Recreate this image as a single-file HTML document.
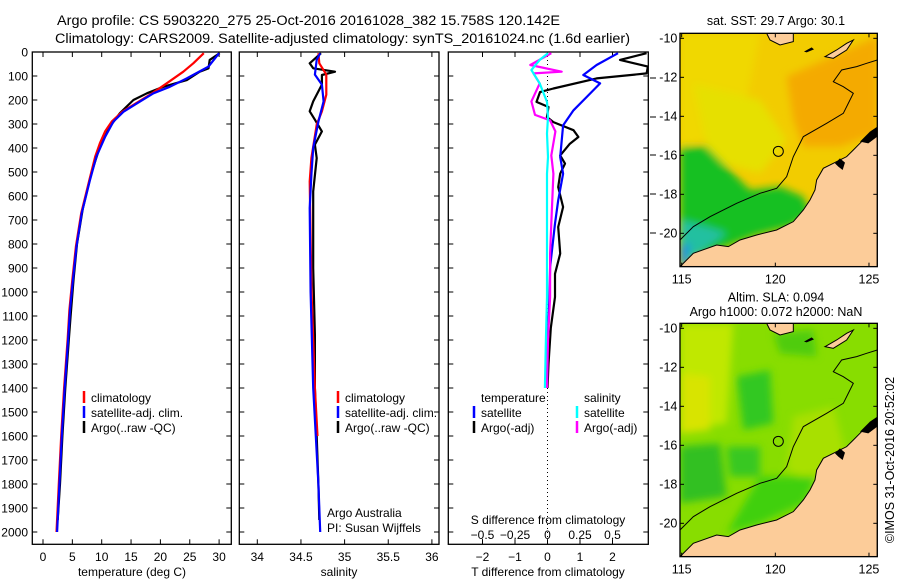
<!DOCTYPE html>
<html><head><meta charset="utf-8"><style>
body{margin:0;background:#fff;width:900px;height:580px;overflow:hidden}
svg{display:block;font-family:"Liberation Sans",sans-serif}
</style></head><body>
<svg id="c" width="900" height="580" viewBox="0 0 900 580">
<defs>
<clipPath id="m1c"><rect x="60" y="100" width="592" height="700"/></clipPath>
<clipPath id="p3c"><rect x="448.3" y="52" width="200" height="492.3"/></clipPath>
<filter id="bl" x="-20%" y="-20%" width="140%" height="140%"><feGaussianBlur stdDeviation="12"/></filter>
</defs>
<text x="57" y="25" font-size="13.5" textLength="503" lengthAdjust="spacingAndGlyphs">Argo profile: CS 5903220_275 25-Oct-2016 20161028_382 15.758S 120.142E</text>
<text x="55" y="43" font-size="13.5" textLength="575" lengthAdjust="spacingAndGlyphs">Climatology: CARS2009. Satellite-adjusted climatology: synTS_20161024.nc (1.6d earlier)</text>
<g id="panels"></g>
<g id="maps"></g>
<text transform="translate(894,460) rotate(-90)" text-anchor="middle" font-size="12.5">©IMOS 31-Oct-2016 20:52:02</text>
</svg>
<script>
// ---- data (depth in dbar) ----
const climDepth=[5,47,82,130,172,214,249,290,330,380,436,533,672,811,950,1075,1193,1400,1600,1800,2000];
const climTemp=[27.4,25.6,23.9,21.1,18.6,15.8,13.5,11.7,10.6,9.7,8.9,7.9,6.5,5.6,5.0,4.5,4.2,3.6,3.1,2.7,2.3];
const satDepth=[5,61,110,145,172,214,249,290,353,436,533,672,811,950,1075,1193,1400,1600,1800,2000];
const satTemp=[30.0,28.2,24.5,21.6,18.8,16.0,13.7,12.0,10.6,9.1,8.0,6.6,5.7,5.1,4.6,4.3,3.7,3.2,2.8,2.4];
const argoDepth=[5,33,68,82,117,145,172,200,255,311,394,500,650,800,950,1100,1200,1400,1600,1800,1950];
const argoTemp=[30.1,28.4,28.2,26.7,24.5,20.5,17.7,15.4,13.1,11.4,9.7,8.3,6.8,5.8,5.2,4.7,4.4,3.8,3.3,2.9,2.5];
const climSalDepth=[5,47,94,178,247,303,442,539,983,1400,1600];
const climSal=[34.70,34.71,34.79,34.79,34.74,34.68,34.62,34.60,34.62,34.66,34.69];
const satSalDepth=[5,33,94,136,206,290,400,511,650,1000,1400,1600,1800,2000];
const satSal=[34.72,34.68,34.66,34.74,34.76,34.70,34.64,34.62,34.60,34.61,34.64,34.67,34.70,34.72];
const argoSalDepth=[5,47,68,82,96,136,206,247,282,331,386,442,581,900,1178,1400,1600,1800,1950];
const argoSal=[34.73,34.60,34.64,34.89,34.74,34.74,34.64,34.60,34.66,34.74,34.66,34.68,34.64,34.64,34.66,34.66,34.68,34.70,34.71];
const dDepthA=[5,33,61,89,110,152,167,208,229,271,292,326,354,382,431,465,507,563,646,729,840,924,1021,1150,1300,1400];
const dTempArgo=[3.05,2.23,3.09,3.05,1.51,0.18,-0.23,-0.34,0.03,-0.02,0.18,0.80,0.95,0.69,0.39,0.54,0.39,0.33,0.48,0.33,0.39,0.23,0.23,0.10,0.03,0.0];
const dDepthS=[5,54,96,131,187,243,306,438,507,618,715,896,1021,1200,1400];
const dTempSat=[2.17,1.51,1.10,1.62,1.21,0.80,0.48,0.39,0.48,0.33,0.23,0.08,0.06,0.0,-0.03];
const dSalDepthA=[5,54,82,89,131,206,262,285,331,431,507,715,840,1021,1200,1400];
const dSalArgo=[0.029,-0.132,0.109,-0.108,-0.060,-0.124,-0.096,0.020,0.061,0.029,0.045,0.029,0.020,0.020,0.004,-0.004];
const dSalDepthS=[5,33,75,131,208,271,340,438,507,715,1021,1200,1400];
const dSalSat=[0.004,-0.06,-0.124,-0.06,-0.004,0.004,-0.004,0.004,-0.004,-0.004,-0.004,-0.012,-0.02];
const depthTicks=[0,100,200,300,400,500,600,700,800,900,1000,1100,1200,1300,1400,1500,1600,1700,1800,1900,2000];
const tempTicks=[0,5,10,15,20,25,30];
const salTicks=[34,34.5,35,35.5,36];
const tdTicks=[-2,-1,0,1,2];
const sdTicks=[-0.5,-0.25,0,0.25,0.5];

const NS='http://www.w3.org/2000/svg';
const root=document.getElementById('panels');
function el(tag,attrs,parent,txt){const e=document.createElementNS(NS,tag);for(const k in attrs)e.setAttribute(k,attrs[k]);if(txt!==undefined)e.textContent=txt;(parent||root).appendChild(e);return e;}
const yD=d=>52+d*0.24;
const xT=t=>43+t*5.87;
const xS=s=>257.3+(s-34)*87.3;
const xTd=t=>547.5+t*32.5;
const xSd=s=>547.5+s*130;
const Y0=52,Y1=544.3;

function panel(x0,x1,name){
  const r=el('rect',{x:x0,y:Y0,width:x1-x0,height:Y1-Y0,fill:'none',stroke:'#000','stroke-width':1.3});
  
  
  depthTicks.forEach(d=>{
    const t1=el('line',{x1:x0,x2:x0+5,y1:yD(d),y2:yD(d),stroke:'#000'});
    
    
    const t2=el('line',{x1:x1-5,x2:x1,y1:yD(d),y2:yD(d),stroke:'#000'});
    
    
  });
}
function xticks(vals,fx,labY,fmt,name){
  vals.forEach(v=>{
    const x=fx(v);
    const a=el('line',{x1:x,x2:x,y1:Y1,y2:Y1-5,stroke:'#000'});
    
    
    const b=el('line',{x1:x,x2:x,y1:Y0,y2:Y0+5,stroke:'#000'});
    
    
    if(labY){const t=el('text',{x:x,y:labY,'text-anchor':'middle','font-size':12},root,fmt?fmt(v):String(v));
    
    }
  });
}
function line(ds,vs,fx,color,name,parent){
  const pts=ds.map((d,i)=>fx(vs[i]).toFixed(1)+','+yD(d).toFixed(1)).join(' ');
  const p=el('polyline',{points:pts,fill:'none',stroke:color,'stroke-width':2.2,'stroke-linejoin':'round'},parent);
  
  
}
function txt(x,y,s,name,anchor,size){const t=el('text',{x:x,y:y,'font-size':size||12,'text-anchor':anchor||'start'},root,s);
  
  return t;}
function legend(x,y,color,label,name){
  const l=el('line',{x1:x,x2:x,y1:y-11,y2:y+1,stroke:color,'stroke-width':2.5});
  
  
  txt(x+7,y,label,name);
}

// Panel 1 temperature
panel(32.3,231.3,'temperature-panel');
depthTicks.forEach(d=>{txt(28,yD(d)+4.5,String(d),'depth-label','end');});
xticks(tempTicks,xT,561,null,'temperature-axis');
txt(132,576,'temperature (deg C)','temperature-axis-title','middle');
line(argoDepth,argoTemp,xT,'#000','argo-temperature-line');
line(climDepth,climTemp,xT,'#f00','climatology-temperature-line');
line(satDepth,satTemp,xT,'#00f','satellite-temperature-line');
legend(84,402,'#f00','climatology','legend-climatology');
legend(84,417,'#00f','satellite-adj. clim.','legend-satellite');
legend(84,432,'#000','Argo(..raw -QC)','legend-argo');

// Panel 2 salinity
panel(239.3,439,'salinity-panel');
xticks(salTicks,xS,561,null,'salinity-axis');
txt(339,576,'salinity','salinity-axis-title','middle');
line(argoSalDepth,argoSal,xS,'#000','argo-salinity-line');
line(climSalDepth,climSal,xS,'#f00','climatology-salinity-line');
line(satSalDepth,satSal,xS,'#00f','satellite-salinity-line');
legend(338,402,'#f00','climatology','legend-climatology-sal');
legend(338,417,'#00f','satellite-adj. clim.','legend-satellite-sal');
legend(338,432,'#000','Argo(..raw -QC)','legend-argo-sal');
txt(327,517,'Argo Australia','argo-australia-label');
txt(327,532,'PI: Susan Wijffels','pi-label');

// Panel 3 differences
panel(448.3,648.3,'difference-panel');
const zl=el('line',{x1:xTd(0),x2:xTd(0),y1:Y0,y2:Y1,stroke:'#000','stroke-dasharray':'1,3'});


xticks(tdTicks,xTd,561,v=>String(v).replace('-','−'),'tdiff-axis');
sdTicks.forEach(v=>{const x=xSd(v);const a=el('line',{x1:x,x2:x,y1:Y1,y2:Y1-5,stroke:'#000'});
  
  
  txt(x,539,String(v).replace('-','−'),'sdiff-label','middle');});
txt(548,524,'S difference from climatology','sdiff-axis-title','middle');
txt(548,576,'T difference from climatology','tdiff-axis-title','middle');
const p3=el('g',{'clip-path':'url(#p3c)'});
line(dDepthA,dTempArgo,xTd,'#000','argo-tdiff-line',p3);
line(dDepthS,dTempSat,xTd,'#00f','satellite-tdiff-line',p3);
line(dSalDepthA,dSalArgo,xSd,'#f0f','argo-sdiff-line',p3);
line(dSalDepthS,dSalSat,xSd,'#0ff','satellite-sdiff-line',p3);
txt(481,402,'temperature','legend-temperature-head');
txt(584,402,'salinity','legend-salinity-head');
legend(474,417,'#00f','satellite','legend-tdiff-satellite');
legend(474,432,'#000','Argo(-adj)','legend-tdiff-argo');
legend(577,417,'#0ff','satellite','legend-sdiff-satellite');
legend(577,432,'#f0f','Argo(-adj)','legend-sdiff-argo');
[78,117,155,194,233].forEach(y=>{const a=el('line',{x1:650,x2:656,y1:y,y2:y,stroke:'#000'});
  
  });

// ---- maps (coords in 3x zoom frame) ----
const latTicks=[-10,-12,-14,-16,-18,-20];
const lonTicks=[115,120,125];
const mapsG=document.getElementById('maps');
const landPts="60,800 65,795 100,760 170,735 205,740 240,720 290,705 350,690 400,665 430,630 450,600 465,570 470,540 490,505 520,490 540,480 560,470 580,450 600,430 620,410 640,395 652,385 652,800";
const isoPts="60,720 100,680 150,650 230,610 300,580 350,565 380,530 400,470 430,410 500,370 550,340 575,290 580,280 550,260 520,245 545,210 590,200 620,190 652,180";
function map(oy,name,title1,title2,bg,blobs){
  const g=el('g',{transform:`translate(660,${oy}) scale(0.3333)`},mapsG);
  
  
  const c=el('g',{'clip-path':'url(#m1c)'},g);
  el('rect',{x:60,y:100,width:592,height:700,fill:bg},c);
  const bg2=el('g',{filter:'url(#bl)'},c);
  blobs.forEach(b=>el('polygon',{points:b[0],fill:b[1]},bg2));
  const land=el('polygon',{points:landPts,fill:'#fccc99',stroke:'#000','stroke-width':3},c);
  
  
  el('polygon',{points:"320,100 400,100 400,125 360,135 330,120",fill:'#fccc99',stroke:'#000','stroke-width':3},c);
  el('polygon',{points:"432,155 455,142 462,148 440,157",fill:'#000'},c);
  el('polygon',{points:"495,170 530,150 560,130 580,120 560,150 520,175",fill:'#fccc99',stroke:'#000','stroke-width':3},c);
  el('polygon',{points:"525,490 540,475 555,488 548,510 535,500",fill:'#000'},c);
  el('polygon',{points:"600,425 630,395 652,380 652,410 625,430",fill:'#000'},c);
  const iso=el('polyline',{points:isoPts,fill:'none',stroke:'#000','stroke-width':3},c);
  
  
  const circ=el('circle',{cx:355,cy:454,r:15,fill:'none',stroke:'#000','stroke-width':3},g);
  
  
  el('rect',{x:60,y:100,width:592,height:700,fill:'none',stroke:'#000','stroke-width':4},g);
  latTicks.forEach(v=>{const y=115+(-10-v)*58.5;
    el('line',{x1:60,x2:72,y1:y,y2:y,stroke:'#000','stroke-width':3},g);
    el('line',{x1:640,x2:652,y1:y,y2:y,stroke:'#000','stroke-width':3},g);
    const t=el('text',{x:52,y:y+12,'text-anchor':'end','font-size':37.5},g,String(v));
    
    });
  lonTicks.forEach(v=>{const x=65+(v-115)*56.2;
    el('line',{x1:x,x2:x,y1:800,y2:788,stroke:'#000','stroke-width':3},g);
    el('line',{x1:x,x2:x,y1:100,y2:112,stroke:'#000','stroke-width':3},g);
    const t=el('text',{x:x,y:850,'text-anchor':'middle','font-size':37.5},g,String(v));
    
    });
  const t1=el('text',{x:348,y:title2?35:75,'text-anchor':'middle','font-size':37.5},g,title1);
  
  
  if(title2){const t2=el('text',{x:348,y:78,'text-anchor':'middle','font-size':37.5},g,title2);
    
    }
}
map(0,'sst-map','sat. SST: 29.7 Argo: 30.1',null,'#f2cc00',[
  ["60,100 300,100 260,300 140,420 60,440","#f0d800"],
  ["100,250 300,300 380,420 300,520 150,480","#e6e000"],
  ["380,230 652,110 652,400 540,440 430,440 400,360","#f4aa00"],
  ["60,440 140,440 220,520 270,570 360,560 430,590 450,640 390,680 290,705 200,740 100,770 60,800","#18c020"],
  ["60,660 140,680 200,700 120,760 60,800","#20c0a0"],
  ["60,740 90,730 80,800 60,800","#2090e0"]]);
map(290,'sla-map','Altim. SLA: 0.094','Argo h1000: 0.072 h2000: NaN','#88dd00',[
  ["60,100 220,100 200,400 60,420","#c0e800"],
  ["60,250 150,260 150,420 60,430","#d8e400"],
  ["230,260 330,240 340,400 250,420","#30c820"],
  ["60,470 180,460 200,620 60,640","#30c020"],
  ["200,470 300,470 300,560 210,560","#38c820"],
  ["340,130 460,120 470,200 360,190","#50cc10"],
  ["400,380 520,350 560,500 470,580 380,540","#a8e000"],
  ["300,560 470,560 430,640 300,700 200,730","#40d010"]]);
</script>
</body></html>
